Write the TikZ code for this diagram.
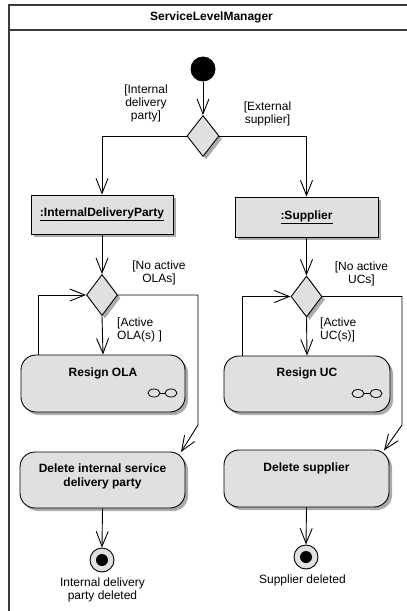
\documentclass[tikz,border=0pt]{standalone}
\usepackage{fontspec}
\setmainfont{Liberation Sans}
\usetikzlibrary{shapes.geometric,arrows.meta,shadows,calc}
\definecolor{actfill}{HTML}{E0E0E0}
\definecolor{shade}{HTML}{ABABAB}
\definecolor{framecol}{HTML}{3A3A3A}
\begin{document}
\begin{tikzpicture}[x=1pt,y=-1pt,
  every node/.style={font=\fontsize{12}{13}\selectfont},
  shadowed/.style={drop shadow={shadow xshift=3pt,shadow yshift=-3pt,fill=shade,opacity=1}},
  flow/.style={draw,line width=0.9pt,-{Straight Barb[length=15pt,width=12pt,line width=0.9pt]}},
  frameline/.style={draw=framecol,line width=1.4pt},
  objbox/.style={rectangle,draw,line width=0.9pt,fill=actfill,shadowed,
    minimum width=142pt,minimum height=39pt,inner sep=0pt,
    font=\fontsize{12}{13}\selectfont\bfseries},
  actbox/.style={rectangle,rounded corners=15pt,draw,line width=0.9pt,fill=actfill,shadowed,
    minimum width=165pt,minimum height=56pt,inner sep=0pt},
  acttext/.style={align=center,inner sep=0pt,font=\fontsize{12}{14}\selectfont\bfseries},
  decision/.style={diamond,draw,line width=0.9pt,fill=actfill,shadowed,
    minimum width=32pt,minimum height=41pt,inner sep=0pt},
  initial/.style={circle,fill=black,minimum size=25pt,inner sep=0pt},
  final/.style={circle,draw,line width=0.9pt,fill=actfill,minimum size=24pt,inner sep=0pt,
    path picture={\fill[black] (path picture bounding box.center) circle (6pt);}},
  guard/.style={align=center,inner sep=0pt},
  rake/.style={line width=0.8pt}
]
\clip (0,0) rectangle (407,611);

% partition frame
\draw[frameline] (9,5) rectangle (414,616);
\draw[frameline] (9,30) -- (414,30);
\node[font=\fontsize{12}{13}\selectfont\bfseries] (title) at (211.5,17) {ServiceLevelManager};

% nodes
\node[initial] (start) at (203,69) {};
\node[decision] (kind) at (203,136) {};

\node[objbox] (idp) at (102,214.5) {\underline{:InternalDeliveryParty}};
\node[objbox,minimum width=143pt,minimum height=40pt] (sup) at (306.5,217) {\underline{:Supplier}};

\node[decision,minimum width=31pt] (olaDec) at (102,295) {};
\node[decision,minimum width=31pt] (ucDec) at (306.5,296.5) {};

\node[actbox,minimum width=164pt,minimum height=57pt] (ola) at (103,383.5) {};
\node[acttext] (olaText) at (103,373) {Resign OLA};
\node[actbox,minimum width=166pt] (uc) at (307,384) {};
\node[acttext] (ucText) at (307,373) {Resign UC};

\node[actbox] (delI) at (102.5,480) {};
\node[acttext] (delIText) at (102.5,476) {Delete internal service\\delivery party};
\node[actbox,minimum height=57pt] (delS) at (306.5,478.5) {};
\node[acttext] (delSText) at (306.5,468) {Delete supplier};

\node[final] (endI) at (102,560) {};
\node[final] (endS) at (306,557) {};

% call-behaviour (rake) symbols
\draw[rake] (154,393) ellipse [x radius=6pt,y radius=4pt];
\draw[rake] (171,393) ellipse [x radius=6pt,y radius=4pt];
\draw[rake] (160,393) -- (165,393);
\draw[rake] (358,393.5) ellipse [x radius=6pt,y radius=4pt];
\draw[rake] (376,393.5) ellipse [x radius=6pt,y radius=4pt];
\draw[rake] (364,393.5) -- (370,393.5);

% guards and labels
\node[guard] (gInt) at (146,103) {[Internal\\delivery\\party]};
\node[guard] (gExt) at (267.5,113.5) {[External\\supplier]};
\node[guard] (gNoOla) at (159,273) {[No active\\OLAs]};
\node[guard,align=left,anchor=west] (gOla) at (117,330) {[Active\\OLA(s) ]};
\node[guard] (gNoUc) at (361.5,273.5) {[No active\\UCs]};
\node[guard,align=left,anchor=west] (gUc) at (320,330) {[Active\\UC(s)]};
\node[guard] (lEndI) at (102.5,589.5) {Internal delivery\\party deleted};
\node[guard] (lEndS) at (302.5,580) {Supplier deleted};

% coordinates for loop and bypass routes
\coordinate (olaLoop) at (38,355);
\coordinate (ucLoop) at (242,356);
\coordinate (olaSkipTop) at (198,295);
\coordinate (olaSkipBot) at (198,425);
\coordinate (delIIn) at (181,452);
\coordinate (ucSkipTop) at (402,296.5);
\coordinate (ucSkipBot) at (402,425);
\coordinate (delSIn) at (384,450.5);

% flows
\draw[flow] (start) -- (kind.north);
\draw[flow] (kind.west) -| (idp.north);
\draw[flow] (kind.east) -| (sup.north);
\draw[flow] (idp.south) -- (olaDec.north);
\draw[flow] (sup.south) -- (ucDec.north);
\draw[flow] (olaDec.south) -- (ola.north);
\draw[flow] (ucDec.south) -- (uc.north);
\draw[flow] (olaLoop) |- (olaDec.west);
\draw[flow] (ucLoop) |- (ucDec.west);
\draw[flow] (olaDec.east) -- (olaSkipTop) -- (olaSkipBot) -- (delIIn);
\draw[flow] (ucDec.east) -- (ucSkipTop) -- (ucSkipBot) -- (delSIn);
\draw[flow] (delI.south) -- (endI.north);
\draw[flow] (delS.south) -- (endS.north);
\end{tikzpicture}
\end{document}
